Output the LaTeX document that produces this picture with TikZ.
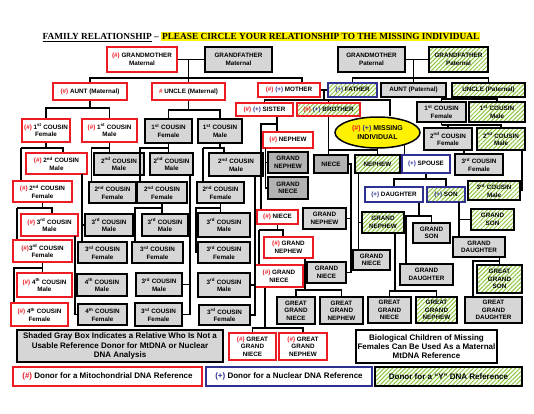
\documentclass[tikz,border=0pt]{standalone}
\usepackage{fontspec}
\setmainfont{Liberation Sans}
\newfontfamily\titlefont{Liberation Serif}
\usetikzlibrary{patterns.meta,shapes.geometric}
\definecolor{dred}{RGB}{237,28,36}
\definecolor{dblue}{RGB}{46,49,146}
\definecolor{lgray}{RGB}{214,214,214}
\definecolor{dgray}{RGB}{178,178,178}
\definecolor{hgreen}{RGB}{141,198,63}
\definecolor{hyellow}{RGB}{255,242,0}
\newcommand\redmark{\textcolor{dred}{(\#)}}
\newcommand\bluemark{\textcolor{dblue}{(+)}}

\begin{document}
\begin{tikzpicture}[x=1pt,y=-1pt,
  bx/.style={draw,line width=1.5pt,align=center,inner sep=0pt,font=\fontsize{6.3}{7.6}\selectfont\bfseries},
  rbox/.style={bx,draw=dred,fill=white},
  bbox/.style={bx,draw=dblue,fill=white},
  gbox/.style={bx,draw=black,fill=lgray},
  dbox/.style={bx,draw=black,fill=dgray},
  ybox/.style={bx,draw=black,pattern={Lines[angle=45,distance=3pt,line width=1pt]},pattern color=hgreen},
  legend/.style={font=\fontsize{8}{9.2}\selectfont\bfseries},
  wh/.style 2 args={minimum width=#1,minimum height=#2},
  link/.style={line width=1.1pt}]
\useasboundingbox (0,0) rectangle (534,413);
\node[font=\titlefont\fontsize{9.3}{11}\selectfont\bfseries] (title) at (261.5,37) {\underline{FAMILY RELATIONSHIP} – {\setlength\fboxsep{1pt}\colorbox{hyellow}{PLEASE CIRCLE YOUR RELATIONSHIP TO THE MISSING INDIVIDUAL}}};

\node[rbox, wh={70}{25}] (gmm) at (142,59.5) {\redmark\ GRANDMOTHER\\Maternal};
\node[gbox, wh={67}{25}] (gfm) at (238.5,59.5) {GRANDFATHER\\Maternal};
\node[gbox, wh={67}{25}] (gmp) at (371.5,59.5) {GRANDMOTHER\\Paternal};
\node[ybox, wh={59}{25}] (gfp) at (458.5,59.5) {GRANDFATHER\\Paternal};

\node[rbox, wh={74}{17}] (auntm) at (90,91.5) {\redmark\ AUNT (Maternal)};
\node[rbox, wh={73}{17}] (unclem) at (188.5,91.5) {\textcolor{dred}{\#} UNCLE (Maternal)};
\node[rbox, wh={62}{14}] (mother) at (289,90) {\redmark\ \bluemark\ MOTHER};
\node[ybox, draw=dblue, wh={49}{14}] (father) at (352.5,90) {\bluemark\ FATHER};
\node[gbox, wh={65}{14}] (auntp) at (413.5,90) {AUNT (Paternal)};
\node[ybox, wh={73}{14}] (unclep) at (488.5,90) {UNCLE (Paternal)};

\node[rbox, wh={57}{13}] (sister) at (264.5,109.5) {\redmark\ \bluemark\ SISTER};
\node[ybox, draw=dred, wh={63}{13}] (brother) at (328.5,109.5) {\redmark\ \bluemark\ BROTHER};
\node[ellipse, draw, line width=1.5pt, fill=hyellow, inner sep=0pt, wh={85}{31}, align=center, font=\fontsize{7}{8.2}\selectfont\bfseries] (mi) at (377.5,132.5) {\redmark\ \bluemark\ MISSING\\INDIVIDUAL};

\node[rbox, wh={48}{23}] (c1fm) at (46,130.5) {\redmark\ 1\textsuperscript{st} COUSIN\\Female};
\node[rbox, wh={55}{23}] (c1mm) at (109.5,130.5) {\redmark\ 1\textsuperscript{st} COUSIN\\Male};
\node[gbox, wh={47}{24}] (c1fu) at (168.5,131) {1\textsuperscript{st} COUSIN\\Female};
\node[gbox, wh={44}{24}] (c1mu) at (220,131) {1\textsuperscript{st} COUSIN\\Male};
\node[gbox, wh={49}{20}] (c1fp) at (441.5,112) {1\textsuperscript{st} COUSIN\\Female};
\node[ybox, wh={56}{20}] (c1mp) at (497,112) {1\textsuperscript{st} COUSIN\\Male};
\node[gbox, wh={48}{22}] (c2fp) at (448,139) {2\textsuperscript{nd} COUSIN\\Female};
\node[ybox, wh={48}{22}] (c2mp) at (501,139) {2\textsuperscript{nd} COUSIN\\Male};
\node[gbox, wh={48}{21}] (c3fp) at (479,164.5) {3\textsuperscript{rd} COUSIN\\Female};
\node[ybox, wh={52}{19}] (c3mp) at (494,190.5) {3\textsuperscript{rd} COUSIN\\Male};

\node[rbox, wh={61}{21}] (c2mr) at (56.5,163.5) {\redmark\ 2\textsuperscript{nd} COUSIN\\Male};
\node[rbox, wh={59}{21}] (c2fr) at (42.5,191.5) {\redmark\ 2\textsuperscript{nd} COUSIN\\Female};
\node[rbox, wh={57}{22}] (c3mr) at (49.5,225) {\redmark\ 3\textsuperscript{rd} COUSIN\\Male};
\node[rbox, wh={59}{22}] (c3fr) at (42.5,251) {\redmark3\textsuperscript{rd} COUSIN\\Female};
\node[rbox, wh={55}{24}] (c4mr) at (44.5,285) {\redmark\ 4\textsuperscript{th} COUSIN\\Male};
\node[rbox, wh={57}{23}] (c4fr) at (39.5,314.5) {\redmark\ 4\textsuperscript{th} COUSIN\\Female};

\node[gbox, wh={50}{22}] (c2mg) at (119,164) {2\textsuperscript{nd} COUSIN\\Male};
\node[gbox, wh={47}{21}] (c2fg) at (112.5,192.5) {2\textsuperscript{nd} COUSIN\\Female};
\node[gbox, wh={48}{22}] (c3mg) at (109,225) {3\textsuperscript{rd} COUSIN\\Male};
\node[gbox, wh={49}{21}] (c3fg) at (102.5,252.5) {3\textsuperscript{rd} COUSIN\\Female};
\node[gbox, wh={50}{22}] (c4mg) at (102,285) {4\textsuperscript{th} COUSIN\\Male};
\node[gbox, wh={49}{21}] (c4fg) at (102.5,314.5) {4\textsuperscript{th} COUSIN\\Female};

\node[gbox, wh={43}{22}] (c2mh) at (171.5,164) {2\textsuperscript{nd} COUSIN\\Male};
\node[gbox, wh={50}{21}] (c2fh) at (162,192.5) {2\textsuperscript{nd} COUSIN\\Female};
\node[gbox, wh={46}{22}] (c3mh) at (165,225) {3\textsuperscript{rd} COUSIN\\Male};
\node[gbox, wh={51}{21}] (c3fh) at (157.5,252.5) {3\textsuperscript{rd} COUSIN\\Female};
\node[gbox, wh={46}{23}] (c3mh2) at (159,284.5) {3\textsuperscript{rd} COUSIN\\Male};
\node[gbox, wh={47}{23}] (c3fh2) at (158.5,314.5) {3\textsuperscript{rd} COUSIN\\Female};

\node[gbox, wh={54}{23}] (c2mi) at (236,164.5) {2\textsuperscript{nd} COUSIN\\Male};
\node[gbox, wh={47}{21}] (c2fi) at (220.5,192.5) {2\textsuperscript{nd} COUSIN\\Female};
\node[gbox, wh={52}{24}] (c3mi) at (224,225) {3\textsuperscript{rd} COUSIN\\Male};
\node[gbox, wh={52}{21}] (c3fi) at (224,252.5) {3\textsuperscript{rd} COUSIN\\Female};
\node[gbox, wh={52}{24}] (c3mi2) at (224,285) {3\textsuperscript{rd} COUSIN\\Male};
\node[gbox, wh={51}{20}] (c3fi2) at (224.5,315) {3\textsuperscript{rd} COUSIN\\Female};

\node[rbox, wh={50}{16}] (nephew1) at (288,140) {\redmark\ NEPHEW};
\node[dbox, wh={40}{21}] (gnephew1) at (288,162.5) {GRAND\\NEPHEW};
\node[dbox, wh={40}{22}] (gniece1) at (288,188) {GRAND\\NIECE};
\node[dbox, wh={34}{18}] (niece2) at (331,164) {NIECE};
\node[ybox, wh={45}{18}] (nephew2) at (377.5,164) {NEPHEW};
\node[bbox, wh={48}{18}] (spouse) at (426,164) {\bluemark\ SPOUSE};
\node[bbox, wh={58}{15}] (daughter) at (394,194.5) {\bluemark\ DAUGHTER};
\node[ybox, draw=dblue, wh={38}{15}] (son) at (446,194.5) {\bluemark\ SON};

\node[rbox, wh={41}{14}] (niece1) at (277.5,217) {\redmark\ NIECE};
\node[gbox, wh={43}{21}] (gnephew2) at (324.5,218.5) {GRAND\\NEPHEW};
\node[rbox, wh={49}{21}] (gnephew1r) at (288.5,247.5) {\redmark\ GRAND\\NEPHEW};
\node[rbox, wh={48}{22}] (gniece1r) at (279,276) {\redmark\ GRAND\\NIECE};
\node[gbox, wh={39}{21}] (gniece2) at (326.5,272.5) {GRAND\\NIECE};
\node[ybox, wh={42}{21}] (gnephew3) at (383,222.5) {GRAND\\NEPHEW};
\node[gbox, wh={37}{20}] (gniece3) at (371.5,260) {GRAND\\NIECE};
\node[gbox, wh={37}{20}] (gson1) at (431.5,233) {GRAND\\SON};
\node[gbox, wh={53}{21}] (gdau1) at (426.5,274.5) {GRAND\\DAUGHTER};
\node[ybox, wh={43}{21}] (gson2) at (492.5,219.5) {GRAND\\SON};
\node[gbox, wh={52}{20}] (gdau2) at (479,247) {GRAND\\DAUGHTER};

\node[gbox, wh={38}{27}] (ggniece1) at (296,310.5) {GREAT\\GRAND\\NIECE};
\node[gbox, wh={43}{27}] (ggnephew1) at (341.5,310.5) {GREAT\\GRAND\\NEPHEW};
\node[gbox, wh={43}{26}] (ggniece2) at (389.5,310) {GREAT\\GRAND\\NIECE};
\node[ybox, wh={41}{26}] (ggnephew2) at (436.5,310) {GREAT\\GRAND\\NEPHEW};
\node[gbox, wh={57}{26}] (ggdau) at (493.5,310) {GREAT\\GRAND\\DAUGHTER};
\node[ybox, wh={45}{28}] (ggson) at (499.5,279) {GREAT\\GRAND\\SON};
\node[rbox, wh={47}{27}] (ggnieceR) at (252.5,346.5) {\redmark\ GREAT\\GRAND\\NIECE};
\node[rbox, wh={48}{27}] (ggnephewR) at (303,346.5) {\redmark\ GREAT\\GRAND\\NEPHEW};

\node[gbox, legend, wh={206}{32}] (grnote) at (120,346) {Shaded Gray Box Indicates a Relative Who Is Not a\\Usable Reference Donor for MtDNA or Nuclear\\DNA Analysis};
\node[bx, legend, fill=white, wh={141}{33}] (bionote) at (426.5,346.5) {Biological Children of Missing\\Females Can Be Used As a Maternal\\MtDNA Reference};
\node[rbox, legend, wh={189}{19}] (legr) at (107.5,376.5) {\redmark\ Donor for a Mitochondrial DNA Reference};
\node[bbox, legend, wh={166}{19}] (legb) at (289,376.5) {\bluemark\ Donor for a Nuclear DNA Reference};
\node[ybox, legend, wh={147}{19}] (legy) at (448.5,376.5) {Donor for a “Y” DNA Reference};

\draw[link] (gmm) -- (gfm);
\coordinate (jm1) at (188.5,59.5);
\coordinate (jm2) at (188.5,78);
\coordinate (jmo) at (302,78);
\draw[link] (jm1) -- (unclem.north);
\draw[link] (auntm.north) |- (jm2) -- (jmo) -- (jmo |- mother.north);
\draw[link] (gmp) -- (gfp);
\coordinate (jp1) at (413.5,59.5);
\coordinate (jp2) at (413.5,78);
\draw[link] (jp1) -- (auntp.north);
\draw[link] (father.north) |- (jp2) -| (unclep.north);

\draw[link] (mother) -- (father);
\coordinate (js1) at (324,90);
\coordinate (js2) at (324,100);
\coordinate (jsm) at (390,100);
\draw[link] (js1) -- (js2);
\draw[link] (sister.north) |- (js2) -| (brother.north);
\draw[link] (js2) -- (jsm) -- (jsm |- mi.north);

\coordinate (ja) at (90,108);
\draw[link] (auntm) -- (ja);
\draw[link] (c1fm.north) |- (ja) -| (c1mm.north);
\coordinate (ju) at (188.5,110);
\draw[link] (unclem) -- (ju);
\draw[link] (c1fu.north) |- (ju) -| (c1mu.north);
\coordinate (jup) at (488.5,99);
\draw[link] (unclep) -- (jup);
\draw[link] (c1fp.north) |- (jup) -| (c1mp.north);
\coordinate (jcp) at (441.5,125);
\draw[link] (c1fp) -- (jcp);
\draw[link] (c2fp.north) |- (jcp) -| (c2mp.north);
\coordinate (jc2) at (464,150);
\draw[link] (jc2) -- (jc2 |- c3fp.north);
\coordinate (jc3) at (522,150);
\draw[link] (jc3) |- (c3mp.east);

\coordinate (jf1) at (46,148);
\coordinate (jf1l) at (21,148);
\coordinate (jf1r) at (63,148);
\draw[link] (c1fm) -- (jf1);
\draw[link] (jf1l) -- (jf1r) -- (jf1r |- c2mr.north);
\draw[link] (jf1l) -- (jf1l |- c2fr.north);
\coordinate (jf2) at (42.5,208);
\coordinate (jf2l) at (17,208);
\coordinate (jf2r) at (52,208);
\draw[link] (c2fr) -- (jf2);
\draw[link] (jf2l) -- (jf2r) -- (jf2r |- c3mr.north);
\draw[link] (jf2l) -- (jf2l |- c3fr.north);
\coordinate (jf3) at (42.5,268);
\coordinate (jf3l) at (14,268);
\draw[link] (c3fr.south) -- (jf3 |- c4mr.north);
\draw[link] (jf3) -- (jf3l) -- (jf3l |- c4fr.north);

\coordinate (jg1) at (109.5,148);
\coordinate (jg1l) at (91.5,148);
\draw[link] (c1mm) -- (jg1) -- (jg1 |- c2mg.north);
\draw[link] (jg1) -- (jg1l) -- (jg1l |- c2fg.north);
\coordinate (jg2) at (82,174);
\draw[link] (jg2) -- (jg2 |- c3fg.north);
\draw[link] (jg2 |- c3mg.west) -- (c3mg.west);
\coordinate (jg3) at (75,236);
\draw[link] (jg3) |- (c4fg.west);
\draw[link] (jg3 |- c4mg.west) -- (c4mg.west);

\coordinate (jh1) at (168.5,148);
\coordinate (jh1l) at (140,148);
\draw[link] (c1fu) -- (jh1) -- (jh1 |- c2mh.north);
\draw[link] (jh1) -- (jh1l) -- (jh1l |- c2fh.north);
\coordinate (jh2) at (162,208);
\coordinate (jh2l) at (135,208);
\draw[link] (c2fh.south) -- (jh2 |- c3mh.north);
\draw[link] (jh2) -- (jh2l) -- (jh2l |- c3fh.north);
\coordinate (jh3) at (190,175);
\draw[link] (jh3) |- (c3fh2.east);
\draw[link] (jh3 |- c3mh2.east) -- (c3mh2.east);

\coordinate (ji1) at (220,148);
\coordinate (ji1l) at (203,148);
\coordinate (ji1r) at (224,148);
\draw[link] (c1mu) -- (ji1);
\draw[link] (ji1l) -- (ji1r) -- (ji1r |- c2mi.north);
\draw[link] (ji1l) -- (ji1l |- c2fi.north);
\coordinate (ji2) at (220.5,208);
\coordinate (ji2l) at (196,208);
\draw[link] (c2fi.south) -- (ji2 |- c3mi.north);
\draw[link] (ji2) -- (ji2l) |- (c3fi.west);
\coordinate (ji3) at (255,176);
\draw[link] (ji3) |- (c3fi2.east);
\draw[link] (ji3 |- c3mi2.east) -- (c3mi2.east);

\coordinate (jsis) at (277,124);
\coordinate (jsisl) at (261,124);
\draw[link] (jsis |- sister.south) -- (jsis |- nephew1.north);
\draw[link] (jsis) -- (jsisl) -- (jsisl |- niece1.north);
\coordinate (jnep) at (265.5,148);
\draw[link] (jnep) |- (gniece1.west);
\draw[link] (jnep |- gnephew1.west) -- (gnephew1.west);
\coordinate (jni) at (277.5,230);
\coordinate (jnil) at (259,230);
\coordinate (jnir) at (283,230);
\draw[link] (niece1) -- (jni);
\draw[link] (jnil) -- (jnir) -- (jnir |- gnephew1r.north);
\draw[link] (jnil) -- (jnil |- gniece1r.north);
\coordinate (jgr) at (305,290);
\draw[link] (jgr |- gnephew1r.south) -- (jgr);
\draw[link] (ggniece1.north) |- (jgr) -| (ggnephew1.north);
\coordinate (jgi) at (265,328);
\draw[link] (jgi |- gniece1r.south) -- (jgi);
\draw[link] (ggnieceR.north) |- (jgi) -| (ggnephewR.north);

\coordinate (jbr) at (328.5,150);
\draw[link] (brother.south) -- (brother.south |- niece2.north);
\draw[link] (jbr) -| (nephew2.north);
\coordinate (jni2) at (351,164);
\draw[link] (niece2.east) -- (jni2) |- (gniece2.east);
\draw[link] (jni2 |- gnephew2.east) -- (gnephew2.east);
\coordinate (jne2) at (358.5,173);
\draw[link] (jne2) -- (jne2 |- gniece3.north);
\draw[link] (jne2 |- gnephew3.west) -- (gnephew3.west);
\coordinate (jgn3) at (395,291);
\draw[link] (jgn3 |- gnephew3.south) -- (jgn3);
\draw[link] (ggniece2.north) |- (jgn3) -| (ggnephew2.north);

\draw[link] (mi.-25) -- (mi.-25 |- spouse.north);
\coordinate (jsp) at (426,179);
\draw[link] (spouse) -- (jsp);
\draw[link] (daughter.north) |- (jsp) -| (son.north);
\coordinate (jda) at (419,216);
\coordinate (jdal) at (406,216);
\draw[link] (jda |- daughter.south) -- (jda) -| (gson1.north);
\draw[link] (jda) -- (jdal) -- (jdal |- gdau1.north);
\coordinate (jso) at (459,202);
\draw[link] (jso) -- (jso |- gdau2.north);
\draw[link] (jso |- gson2.west) -- (gson2.west);
\coordinate (jgd) at (499.5,261);
\coordinate (jgdl) at (473,261);
\draw[link] (jgd |- gdau2.south) -- (ggson.north);
\draw[link] (jgd) -- (jgdl) -- (jgdl |- ggdau.north);
\end{tikzpicture}
\end{document}
